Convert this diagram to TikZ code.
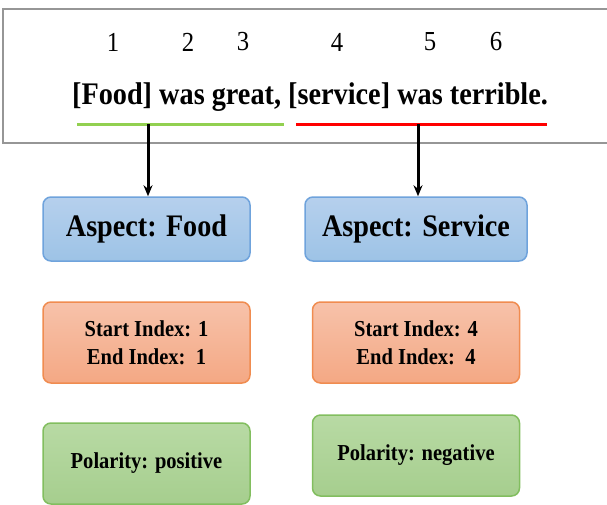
\documentclass[tikz,border=0pt]{standalone}
\usepackage{fontspec}
\setmainfont[FakeStretch=0.9]{Liberation Serif}
\usetikzlibrary{arrows.meta,positioning}
\definecolor{abblue}{RGB}{157,195,230}
\definecolor{abbluetop}{RGB}{182,208,237}
\definecolor{abblueline}{RGB}{111,163,220}
\definecolor{aborange}{RGB}{244,168,132}
\definecolor{aborangetop}{RGB}{247,194,170}
\definecolor{aborangeline}{RGB}{240,140,80}
\definecolor{abgreen}{RGB}{166,206,142}
\definecolor{abgreentop}{RGB}{184,218,164}
\definecolor{abgreenline}{RGB}{130,190,95}
\definecolor{abunder}{RGB}{146,208,80}
\definecolor{abframe}{RGB}{150,150,150}
\tikzset{
  idxnum/.style={font=\fontsize{27.5}{29}\selectfont},
  boxbase/.style={rounded corners=8pt,line width=1.5pt,align=center,
        minimum width=207pt,font=\bfseries\fontsize{22.8}{28}\selectfont},
  aspectbox/.style={boxbase,draw=abblueline,top color=abbluetop,bottom color=abblue,
        minimum height=64pt,font=\bfseries\fontsize{31.3}{33}\selectfont},
  idxbox/.style={boxbase,draw=aborangeline,top color=aborangetop,bottom color=aborange,
        minimum height=81pt},
  polbox/.style={boxbase,draw=abgreenline,top color=abgreentop,bottom color=abgreen,
        minimum height=81pt},
  pointer/.style={-{Stealth[length=11pt,width=9pt]},line width=3pt,black}
}
\begin{document}
\begin{tikzpicture}[x=1pt,y=-1pt]
  \useasboundingbox (0,0) rectangle (607,504);
  % sentence frame
  \draw[abframe,line width=2pt] (608,9) -- (3,9) -- (3,143) -- (608,143);
  % word indices
  \node[idxnum] (n1) at (113,42) {1};
  \node[idxnum] (n2) at (188,42) {2};
  \node[idxnum] (n3) at (243,42) {3};
  \node[idxnum] (n4) at (337,42) {4};
  \node[idxnum] (n5) at (430,42) {5};
  \node[idxnum] (n6) at (496,42) {6};
  \node[font=\bfseries\fontsize{31.4}{33}\selectfont] (sent) at (310,97)
        {[Food] was great, [service] was terrible.};
  % underlines
  \coordinate (g1) at (77,124);
  \coordinate (g2) at (284,124);
  \coordinate (r1) at (296,124);
  \coordinate (r2) at (547,124);
  \coordinate (gmid) at (148,124);
  \coordinate (rmid) at (418,124);
  \draw[abunder,line width=3pt] (g1) -- (g2);
  \draw[red,line width=3pt] (r1) -- (r2);
  % aspect boxes
  \node[aspectbox] (asp1) at (146.5,229) {Aspect: Food};
  \node[aspectbox,minimum width=222pt] (asp2) at (416,229) {Aspect: Service};
  \node[idxbox] (idx1) at (146.5,342.5) {Start Index: 1\\End Index:\ \ 1};
  \node[idxbox] (idx2) at (416,342.5) {Start Index: 4\\End Index:\ \ 4};
  \node[polbox] (pol1) at (146.5,463.5) {Polarity: positive};
  \node[polbox] (pol2) at (416,455.5) {Polarity: negative};
  \draw[pointer] (gmid) -- (gmid |- asp1.north);
  \draw[pointer] (rmid) -- (rmid |- asp2.north);
\end{tikzpicture}
\end{document}
